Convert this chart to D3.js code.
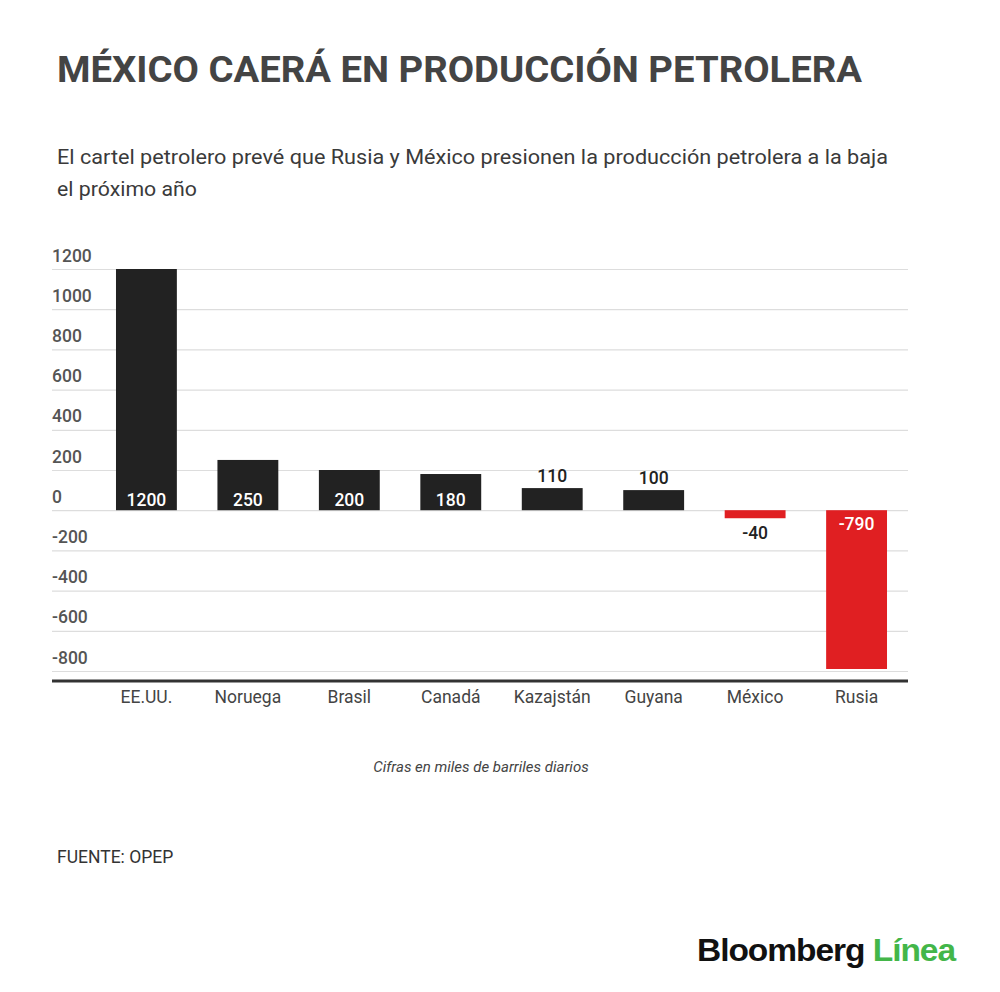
<!DOCTYPE html>
<html><head><meta charset="utf-8">
<script src="https://cdn.jsdelivr.net/npm/d3@7"></script>
<style>
html,body{margin:0;padding:0;background:#fff;}
svg{display:block;font-family:Roboto,"Noto Sans",sans-serif;}
</style></head>
<body>
<svg id="chart" width="1000" height="992"></svg>
<script>
const categories = ["EE.UU.","Noruega","Brasil","Canadá","Kazajstán","Guyana","México","Rusia"];
const values = [1200,250,200,180,110,100,-40,-790];
const tickValues = [-800,-600,-400,-200,0,200,400,600,800,1000,1200];

const svg = d3.select("#chart");
const x = d3.scaleBand().domain(categories).range([95.7,907.3]).paddingInner(0.4).paddingOuter(0.2);
const y = d3.scaleLinear().domain([-800,1200]).range([671,269]);

// title & subtitle
svg.append("text").attr("x",57).attr("y",82).attr("font-size",36).attr("font-weight",700)
  .attr("fill","#444").attr("textLength",805).attr("lengthAdjust","spacingAndGlyphs")
  .text("MÉXICO CAERÁ EN PRODUCCIÓN PETROLERA");
svg.append("text").attr("x",57).attr("y",164).attr("font-size",19.5).attr("font-weight",400)
  .attr("fill","#3a3a3a").attr("textLength",831).attr("lengthAdjust","spacingAndGlyphs")
  .text("El cartel petrolero prevé que Rusia y México presionen la producción petrolera a la baja");
svg.append("text").attr("x",57).attr("y",196).attr("font-size",19.5).attr("font-weight",400)
  .attr("fill","#3a3a3a").attr("textLength",140).attr("lengthAdjust","spacingAndGlyphs").text("el próximo año");

// grid
const yAxis = d3.axisLeft(y).tickValues(tickValues).tickSize(856).tickFormat(d=>String(d));
const g = svg.append("g").attr("transform","translate(908,0)");
g.call(yAxis);
g.select(".domain").remove();
g.selectAll(".tick line").attr("stroke","#ddd").attr("stroke-width",1.2);
g.selectAll(".tick text").attr("x",-856).attr("dy",-8).attr("text-anchor","start")
  .attr("font-size",17.5).attr("fill","#555").attr("font-weight",500).attr("font-family","Roboto,sans-serif");

// bars
svg.append("g").selectAll("rect").data(values).join("rect")
  .attr("x",(d,i)=>x(categories[i]))
  .attr("width",x.bandwidth())
  .attr("y",d=>y(Math.max(0,d)))
  .attr("height",d=>Math.abs(y(d)-y(0)))
  .attr("fill",d=>d<0?"#e01f22":"#222");

// value labels
svg.append("g").selectAll("text").data(values).join("text")
  .attr("x",(d,i)=>x(categories[i])+x.bandwidth()/2)
  .attr("y",d=>{
    const h=Math.abs(y(d)-y(0));
    if(d>=0) return h>30 ? y(0)-4 : y(d)-6;
    return h>30 ? y(0)+20 : y(d)+21;
  })
  .attr("text-anchor","middle").attr("font-size",17.5).attr("font-weight",500)
  .attr("fill",d=>Math.abs(y(d)-y(0))>30?"#fff":"#222")
  .text(d=>String(d));

// axis baseline
svg.append("line").attr("x1",52).attr("x2",908).attr("y1",y(-850)).attr("y2",y(-850))
  .attr("stroke","#333").attr("stroke-width",3);

// category labels
const xAxis = d3.axisBottom(x).tickSize(0);
const xa = svg.append("g").attr("transform",`translate(0,${y(-850)})`).call(xAxis);
xa.select(".domain").remove();
xa.selectAll(".tick text").attr("dy",0).attr("y",22).attr("font-size",17.5).attr("fill","#444")
  .attr("font-family","Roboto,sans-serif").attr("font-weight",400);

// note
svg.append("text").attr("x",481).attr("y",772).attr("text-anchor","middle").attr("font-size",15)
  .attr("font-style","italic").attr("fill","#444").text("Cifras en miles de barriles diarios");
svg.append("text").attr("x",57).attr("y",863).attr("font-size",17.5).attr("fill","#333").attr("font-weight",400)
  .text("FUENTE: OPEP");

// logo
const logo = svg.append("text").attr("x",697).attr("y",961).attr("font-size",32).attr("font-weight",900)
  .attr("font-family","'Liberation Sans',Arial,sans-serif").attr("letter-spacing",-1)
  .attr("textLength",258).attr("lengthAdjust","spacingAndGlyphs");
logo.append("tspan").attr("fill","#111").text("Bloomberg ");
logo.append("tspan").attr("fill","#43b649").text("Línea");
</script>
</body></html>
